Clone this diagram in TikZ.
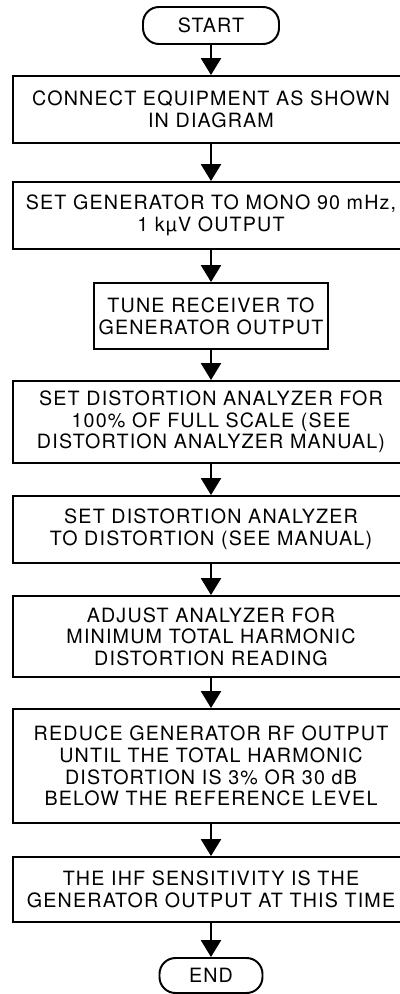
\documentclass[tikz,border=0pt]{standalone}
\usepackage{fontspec}
\newfontfamily\flowfont{TeX Gyre Heros}[LetterSpace=6]
\usetikzlibrary{arrows.meta}

\begin{document}
\begin{tikzpicture}[>={Triangle[width=0.5cm,length=0.42cm]},
  every node/.style={font={\flowfont\fontsize{14}{15.4}\selectfont},align=center,inner sep=0pt},
  stepbox/.style={draw,line width=1.4pt,minimum width=9.9cm},
  terminal/.style={draw,line width=1.4pt,rounded corners=0.4cm},
  flow/.style={->,line width=1.3pt}]
\useasboundingbox (0,0) rectangle (10,-24.85);
\clip (0,0) rectangle (10,-24.85);
% terminals and steps, top to bottom
\node[terminal,minimum width=3.4cm,minimum height=0.925cm] (start) at (5.275,-0.6375) {START};
\node[stepbox,minimum height=1.675cm] (connect) at (5.275,-2.7375) {CONNECT EQUIPMENT AS SHOWN\\IN DIAGRAM};
\node[stepbox,minimum height=1.675cm] (setgen) at (5.275,-5.3875) {SET GENERATOR TO MONO 90 mHz,\\1 kµV OUTPUT};
\node[stepbox,minimum width=5.85cm,minimum height=1.65cm] (tune) at (5.275,-7.9) {TUNE RECEIVER TO\\GENERATOR OUTPUT};
\node[stepbox,minimum height=2.05cm] (fullscale) at (5.275,-10.55) {SET DISTORTION ANALYZER FOR\\100\% OF FULL SCALE (SEE\\DISTORTION ANALYZER MANUAL)};
\node[stepbox,minimum height=1.675cm] (distmode) at (5.275,-13.2375) {SET DISTORTION ANALYZER\\TO DISTORTION (SEE MANUAL)};
\node[stepbox,minimum height=2.025cm] (adjust) at (5.275,-15.9125) {ADJUST ANALYZER FOR\\MINIMUM TOTAL HARMONIC\\DISTORTION READING};
\node[stepbox,minimum height=2.85cm] (reduce) at (5.275,-19.15) {REDUCE GENERATOR RF OUTPUT\\UNTIL THE TOTAL HARMONIC\\DISTORTION IS 3\% OR 30 dB\\BELOW THE REFERENCE LEVEL};
\node[stepbox,minimum height=1.625cm] (sens) at (5.275,-22.2375) {THE IHF SENSITIVITY IS THE\\GENERATOR OUTPUT AT THIS TIME};
\node[terminal,minimum width=2.575cm,minimum height=0.875cm] (end) at (5.275,-24.3875) {END};
% connectors
\draw[flow] (start) -- (connect);
\draw[flow] (connect) -- (setgen);
\draw[flow] (setgen) -- (tune);
\draw[flow] (tune) -- (fullscale);
\draw[flow] (fullscale) -- (distmode);
\draw[flow] (distmode) -- (adjust);
\draw[flow] (adjust) -- (reduce);
\draw[flow] (reduce) -- (sens);
\draw[flow] (sens) -- (end);
\end{tikzpicture}
\end{document}
